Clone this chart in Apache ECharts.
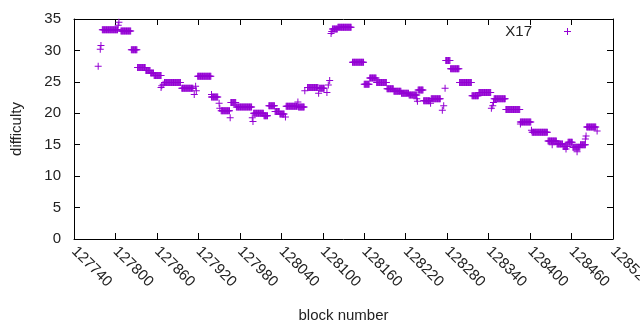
<!DOCTYPE html>
<html>
<head>
<meta charset="utf-8">
<script src="https://cdn.jsdelivr.net/npm/echarts@6/dist/echarts.min.js"></script>
<style>
  html, body { margin: 0; padding: 0; background: #fff; }
  #chart { width: 640px; height: 330px; }
</style>
</head>
<body>
<div id="chart"></div>
<script>
// difficulty runs: [first block, last block, difficulty] (same value for every block in the run)
var runs = [
  [127781, 127803, 33.3],
  [127808, 127822, 33.1],
  [127823, 127831, 30.1],
  [127832, 127843, 27.3],
  [127844, 127850, 26.8],
  [127851, 127855, 26.4],
  [127856, 127866, 26.0],
  [127871, 127894, 24.9],
  [127896, 127912, 24.0],
  [127919, 127938, 25.9],
  [127939, 127948, 22.6],
  [127953, 127965, 20.4],
  [127967, 127974, 21.7],
  [127975, 127997, 21.0],
  [128000, 128014, 20.0],
  [128015, 128020, 19.6],
  [128022, 128030, 21.2],
  [128031, 128037, 20.3],
  [128038, 128044, 19.9],
  [128047, 128063, 21.1],
  [128065, 128073, 21.0],
  [128078, 128093, 24.1],
  [128095, 128102, 24.0],
  [128114, 128121, 33.4],
  [128122, 128141, 33.7],
  [128143, 128159, 28.1],
  [128160, 128167, 24.6],
  [128168, 128177, 25.6],
  [128178, 128192, 24.9],
  [128193, 128202, 23.9],
  [128203, 128213, 23.5],
  [128214, 128224, 23.2],
  [128225, 128236, 22.9],
  [128238, 128245, 23.7],
  [128246, 128255, 22.0],
  [128257, 128270, 22.3],
  [128278, 128284, 28.4],
  [128285, 128297, 27.1],
  [128298, 128315, 24.9],
  [128316, 128325, 22.8],
  [128326, 128343, 23.3],
  [128348, 128364, 22.3],
  [128365, 128385, 20.6],
  [128386, 128401, 18.6],
  [128403, 128425, 17.0],
  [128426, 128438, 15.6],
  [128439, 128447, 15.1],
  [128448, 128454, 14.7],
  [128455, 128461, 15.4],
  [128462, 128472, 14.6],
  [128473, 128480, 15.0],
  [128482, 128495, 17.8]
];

// single blocks off the runs: [block, difficulty]
var singles = [
  [127775, 27.5], [127778, 30.2], [127779, 30.8], [127804, 34.0], [127805, 34.5],
  [127866, 24.1], [127867, 24.4], [127869, 24.6], [127914, 23.0], [127916, 24.3],
  [127917, 23.6], [127939, 23.0], [127950, 21.6], [127951, 20.8], [127966, 19.3],
  [127998, 19.3], [127999, 18.7], [128046, 19.4], [128064, 21.8], [128074, 23.6],
  [128094, 23.2], [128106, 23.3], [128108, 24.5], [128110, 25.2], [128112, 32.7],
  [128113, 33.0], [128236, 22.3], [128237, 21.9], [128256, 21.6], [128273, 20.5],
  [128275, 21.2], [128277, 24.0], [128344, 20.8], [128346, 21.2], [128347, 21.7],
  [128386, 18.3], [128402, 17.3], [128432, 15.0], [128452, 14.3], [128468, 13.9],
  [128480, 15.9], [128481, 16.4], [128497, 17.2]
];

var seriesName = 'X17';
var xTicksFrom = 127740, xTicksTo = 128520, xStep = 60;
var yTicksFrom = 0, yTicksTo = 35, yStep = 5;

var points = [];
runs.forEach(function (r) {
  for (var b = r[0]; b <= r[1]; b++) points.push([b, r[2]]);
});
singles.forEach(function (p) { points.push(p); });

var plus = 'path://M0,3H7V4H0Z M3,0H4V7H3Z';
var font = 'Liberation Sans';
var black = '#000';
var txt = '#222';

var myChart = echarts.init(document.getElementById('chart'));
var option = {
  animation: false,
  textStyle: { fontFamily: font },
  grid: { left: 74, right: 27, top: 19, bottom: 91, containLabel: false, outerBoundsMode: 'none' },
  legend: {
    data: [seriesName],
    right: 64,
    top: 19,
    align: 'right',
    itemWidth: 7,
    itemHeight: 7,
    icon: plus,
    textStyle: { fontSize: 15, color: txt, fontFamily: font, padding: [0, 27, 0, 0] }
  },
  xAxis: [
    {
      type: 'value',
      min: xTicksFrom, max: xTicksTo, interval: xStep,
      name: 'block number',
      nameLocation: 'middle',
      nameGap: 69,
      nameTextStyle: { fontSize: 15, color: txt, fontFamily: font },
      axisLine: { show: true, onZero: false, lineStyle: { color: black, width: 1 } },
      axisTick: { show: true, inside: true, length: 6, lineStyle: { color: black } },
      axisLabel: {
        rotate: -45, margin: 10, fontSize: 15, color: txt, fontFamily: font,
        formatter: function (v) { return String(v); }
      },
      splitLine: { show: false }
    },
    {
      type: 'value', position: 'top',
      min: xTicksFrom, max: xTicksTo, interval: xStep,
      axisLine: { show: true, onZero: false, lineStyle: { color: black, width: 1 } },
      axisTick: { show: true, inside: true, length: 6, lineStyle: { color: black } },
      axisLabel: { show: false },
      splitLine: { show: false }
    }
  ],
  yAxis: [
    {
      type: 'value',
      min: yTicksFrom, max: yTicksTo, interval: yStep,
      name: 'difficulty',
      nameLocation: 'middle',
      nameGap: 50,
      nameTextStyle: { fontSize: 15, color: txt, fontFamily: font },
      axisLine: { show: true, onZero: false, lineStyle: { color: black, width: 1 } },
      axisTick: { show: true, inside: true, length: 6, lineStyle: { color: black } },
      axisLabel: { margin: 13, fontSize: 15, color: txt, fontFamily: font },
      splitLine: { show: false }
    },
    {
      type: 'value', position: 'right',
      min: yTicksFrom, max: yTicksTo, interval: yStep,
      axisLine: { show: true, onZero: false, lineStyle: { color: black, width: 1 } },
      axisTick: { show: true, inside: true, length: 6, lineStyle: { color: black } },
      axisLabel: { show: false },
      splitLine: { show: false }
    }
  ],
  series: [
    {
      name: seriesName,
      type: 'scatter',
      data: points,
      symbol: plus,
      symbolSize: 7,
      itemStyle: { color: '#9400d3', opacity: 1 }
    }
  ]
};
myChart.setOption(option);
</script>
</body>
</html>
